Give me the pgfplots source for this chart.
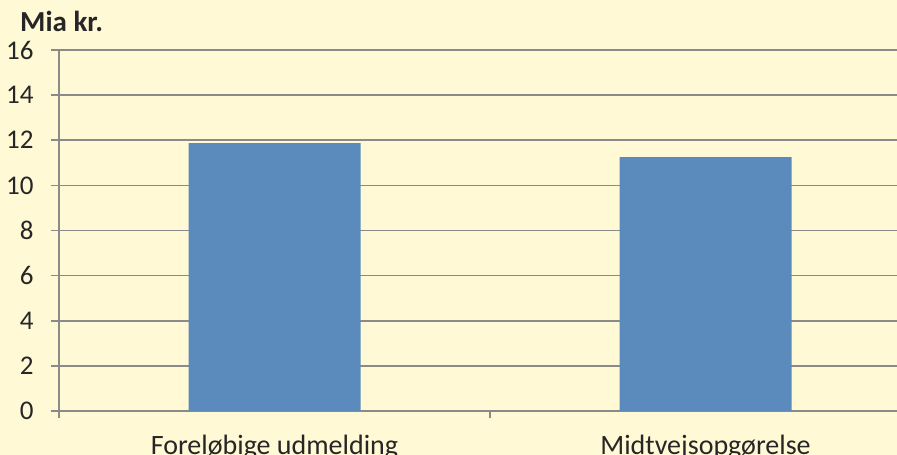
\documentclass[border=0pt]{standalone}
\usepackage{pgfplots}
\pgfplotsset{compat=1.18}
\usepackage{fontspec}
\setmainfont{Carlito}
\definecolor{bg}{HTML}{FFF9D6}
\definecolor{barblue}{HTML}{5B8BBC}
\definecolor{gridgray}{HTML}{8A8A8A}
\begin{document}
\begin{tikzpicture}[x=1bp,y=1bp]
\useasboundingbox (-59,-44) rectangle (838,411);
\fill[bg] (-59,-44) rectangle (838,411);
\begin{axis}[
  at={(0,0)}, anchor=south west,
  scale only axis,
  width=838bp, height=361bp,
  xmin=-0.5, xmax=1.4443,
  ymin=0, ymax=16,
  ytick={0,2,...,16},
  xtick={0,1},
  xticklabels={Foreløbige udmelding, Midtvejsopgørelse},
  minor xtick={-0.5,0.5},
  major x tick style={draw=none},
  minor tick length=7bp,
  major tick length=8bp,
  tick align=outside,
  tick style={gridgray, line width=1.6bp},
  ymajorgrids,
  grid style={gridgray, line width=1.6bp},
  axis line style={gridgray, line width=1.6bp},
  axis x line*=bottom,
  axis y line*=left,
  separate axis lines,
  font=\fontsize{27bp}{30bp}\selectfont,
  yticklabel style={anchor=east, xshift=-14bp, text=black!85},
  xticklabel style={anchor=base, yshift=-36bp, text=black!85, font=\fontsize{28bp}{30bp}\selectfont},
  /pgf/number format/assume math mode=true,
  ybar, bar width=172bp,
  axis background/.style={fill=bg},
  clip=false,
]
\addplot[fill=barblue, draw=none] coordinates {(0,11.87) (1,11.25)};
\end{axis}
\node[anchor=base west, inner sep=0pt, text=black!85, font=\fontsize{29bp}{30bp}\selectfont\bfseries] at (-39,379) {Mia kr.};
\end{tikzpicture}
\end{document}
